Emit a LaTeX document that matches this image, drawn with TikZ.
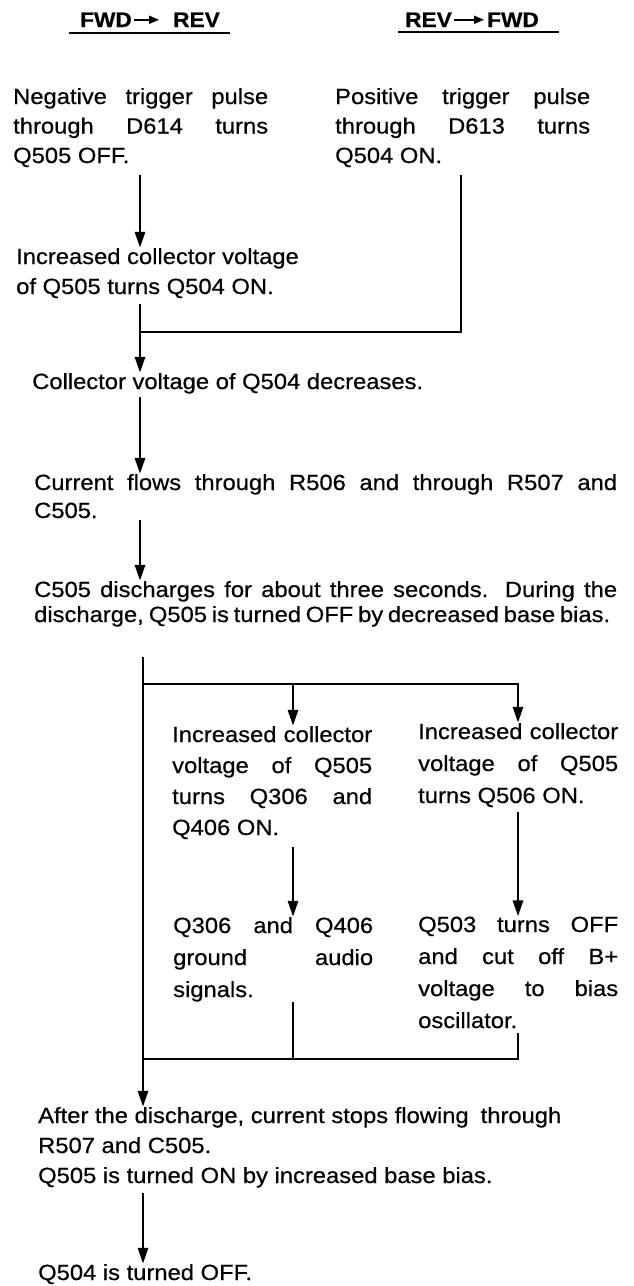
\documentclass[tikz,border=0pt]{standalone}
\usepackage{fontspec}
\setmainfont{Liberation Sans}[FakeStretch=1.08,FakeBold=0.5]
\usetikzlibrary{arrows.meta,calc}
\newcommand\jline[2]{\makebox[#1][s]{#2}}
\newcommand\blk[3]{\parbox[t]{#1}{\fontsize{22}{#2}\selectfont #3}}
\begin{document}
\begin{tikzpicture}[x=1pt,y=-1pt,
  flow/.style={line width=2.9pt},
  arr/.style={flow,-{Triangle[length=16pt,width=10pt]}},
  txt/.style={anchor=base west,inner sep=0pt},
  hdr/.style={anchor=base west,inner sep=0pt,font=\fontsize{21}{25}\selectfont\bfseries},
  harr/.style={line width=1.8pt,-{Triangle[length=10pt,width=8pt]}},
  uline/.style={line width=2.8pt}]
\useasboundingbox (0,0) rectangle (634,1286);
\fill[white] (0,0) rectangle (634,1286);

% headers
\node[hdr] (hL1) at (80,27) {FWD};
\node[hdr] (hL2) at (173,27) {REV};
\draw[harr, shorten <=2pt, shorten >=14pt] (hL1.east) -- (hL2.west);
\draw[uline] (69,33) -- (230,33);
\node[hdr] (hR1) at (405,27) {REV};
\node[hdr] (hR2) at (487,27) {FWD};
\draw[harr, shorten <=2pt, shorten >=3pt] (hR1.east) -- (hR2.west);
\draw[uline] (398,32) -- (559,32);

% text blocks
\node[txt] (a) at (13,104) {\blk{255pt}{29.5pt}{\jline{255pt}{Negative trigger pulse}\\ \jline{255pt}{through D614 turns}\\ Q505 OFF.}};
\node[txt] (b) at (335,104) {\blk{255pt}{29.5pt}{\jline{255pt}{Positive trigger pulse}\\ \jline{255pt}{through D613 turns}\\ Q504 ON.}};
\node[txt] (c) at (16,264) {\blk{400pt}{30pt}{Increased collector voltage\\ of Q505 turns Q504 ON.}};
\node[txt] (d) at (32,389) {\blk{600pt}{30pt}{Collector voltage of Q504 decreases.}};
\node[txt] (e) at (34,490) {\blk{600pt}{28pt}{\jline{583pt}{Current flows through R506 and through R507 and}\\ C505.}};
\node[txt] (f) at (34,597) {\blk{600pt}{25pt}{\jline{583pt}{C505 discharges for about three seconds. During the}\\ \jline{576pt}{discharge, Q505 is turned OFF by decreased base bias.}}};
\node[txt] (g) at (172,742) {\blk{200pt}{31pt}{\jline{200pt}{Increased collector}\\ \jline{200pt}{voltage of Q505}\\ \jline{200pt}{turns Q306 and}\\ Q406 ON.}};
\node[txt] (h) at (418,739) {\blk{200pt}{32pt}{\jline{200pt}{Increased collector}\\ \jline{200pt}{voltage of Q505}\\ turns Q506 ON.}};
\node[txt] (i) at (173,933) {\blk{200pt}{32pt}{\jline{200pt}{Q306 and Q406}\\ \jline{200pt}{ground audio}\\ signals.}};
\node[txt] (j) at (418,932) {\blk{200pt}{32pt}{\jline{200pt}{Q503 turns OFF}\\ \jline{200pt}{and cut off B+}\\ \jline{200pt}{voltage to bias}\\ oscillator.}};
\node[txt] (k) at (38,1123) {\blk{600pt}{30pt}{After the discharge, current stops flowing\hspace{12pt}through\\ R507 and C505.\\ Q505 is turned ON by increased base bias.}};
\node[txt] (l) at (38,1280) {\blk{600pt}{30pt}{Q504 is turned OFF.}};

% columns and junctions
\coordinate (colL) at (140,0);
\coordinate (colR) at (461,0);
\coordinate (colL2) at (143,0);
\coordinate (colM) at (293,0);
\coordinate (colR2) at (518,0);
\coordinate (j1) at (140,332);
\coordinate (br) at (143,684);
\coordinate (mg) at (143,1059);

% connectors
\draw[arr] ($(a.south -| colL)+(0,8)$) -- (c.north -| colL);
\draw[flow] ($(b.south -| colR)+(0,8)$) |- (j1);
\draw[arr] ($(c.south -| colL)+(0,6)$) -- (d.north -| colL);
\draw[arr] ($(d.south -| colL)+(0,3)$) -- (e.north -| colL);
\draw[arr] ($(e.south -| colL)+(0,2)$) -- (f.north -| colL);
\draw[arr] ($(f.south -| colL2)+(0,30)$) -- (k.north -| colL2);
\draw[arr] (br) -| (h.north -| colR2);
\draw[arr] (br -| colM) -- (g.north -| colM);
\draw[arr] ($(g.south -| colM)+(0,8)$) -- (i.north -| colM);
\draw[arr] ($(h.south -| colR2)+(0,5)$) -- (j.north -| colR2);
\draw[flow] (i.south -| colM) -- (colM |- mg);
\draw[flow] ($(j.south -| colR2)+(0,5)$) |- (mg);
\draw[arr] ($(k.south -| colL2)+(0,5)$) -- (l.north -| colL2);
\end{tikzpicture}
\end{document}
